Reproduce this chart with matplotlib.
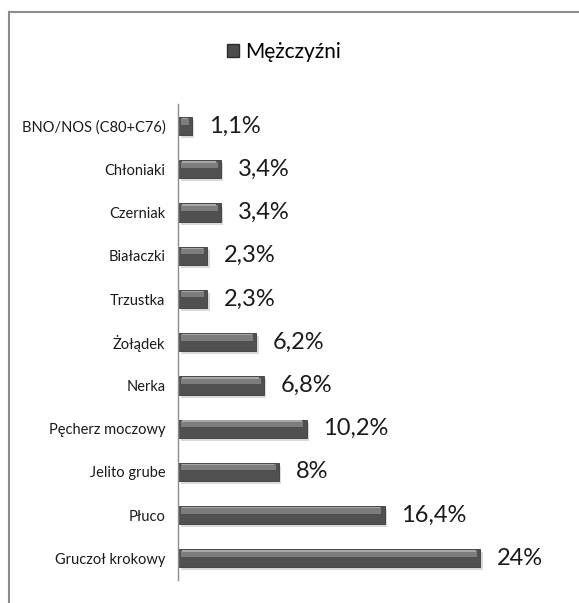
import matplotlib
matplotlib.use("Agg")
import matplotlib.pyplot as plt
from matplotlib.patches import Patch, Rectangle

plt.rcParams['font.family'] = ['Lato', 'DejaVu Sans']

categories = ["BNO/NOS (C80+C76)", "Chłoniaki", "Czerniak", "Białaczki", "Trzustka",
              "Żołądek", "Nerka", "Pęcherz moczowy", "Jelito grube", "Płuco",
              "Gruczoł krokowy"]
values = [1.1, 3.4, 3.4, 2.3, 2.3, 6.2, 6.8, 10.2, 8, 16.4, 24]
series_name = "Mężczyźni"

W, H = 579, 603
fig = plt.figure(figsize=(W / 100, H / 100), dpi=100)
ax = fig.add_axes([178 / W, 1 - 580 / H, 382 / W, 475.5 / H])

y = list(range(len(categories)))
bar_h = 0.42
# soft shadow (below/right)
ax.barh([p + 0.07 for p in y], values, height=bar_h, left=0.2, color="#dadada",
        linewidth=0, zorder=1)
# main bar
ax.barh(y, values, height=bar_h, color="#505050", edgecolor="#3a3a3a", linewidth=0.6, zorder=2)
# glossy top band
band_h = bar_h * 0.34
ax.barh([p - bar_h / 2 + band_h / 2 + 0.03 for p in y], [max(v - 0.5, 0.1) for v in values],
        height=band_h, left=0.25, color="#7d7d7d", linewidth=0, zorder=3)
ax.barh([p - bar_h / 2 + 0.035 for p in y], [max(v - 0.7, 0.1) for v in values],
        height=bar_h * 0.08, left=0.35, color="#a8a8a8", linewidth=0, zorder=4)

for yi, v in zip(y, values):
    lbl = f"{v:g}".replace(".", ",") + "%"
    ax.annotate(lbl, (v, yi), xytext=(12, 0), textcoords="offset points",
                va="center", ha="left", fontsize=17, color="#1a1a1a")

ax.set_yticks(y)
ax.set_yticklabels(categories, fontsize=10.5, color="#1a1a1a")
ax.tick_params(axis="y", length=0, pad=9)
ax.set_xticks([])
ax.set_xlim(0, 382 / 12.6)
ax.set_ylim(len(categories) - 0.5, -0.5)
for s in ["top", "right", "bottom"]:
    ax.spines[s].set_visible(False)
ax.spines["left"].set_color("#8c8c8c")
ax.spines["left"].set_linewidth(1.0)

fig.legend(handles=[Patch(facecolor="#4d4d4d", edgecolor="#2e2e2e", label=series_name)],
           loc="center", bbox_to_anchor=(284 / W, 1 - 52 / H), frameon=False, fontsize=15,
           handlelength=0.6, handleheight=0.6, handletextpad=0.3)

fig.patches.append(Rectangle((9 / W, -0.05), 1.1, 1 - 12 / H + 0.05, transform=fig.transFigure,
                             fill=False, edgecolor="#8c8c8c", linewidth=1.5))

fig.savefig("out.png", dpi=100)
